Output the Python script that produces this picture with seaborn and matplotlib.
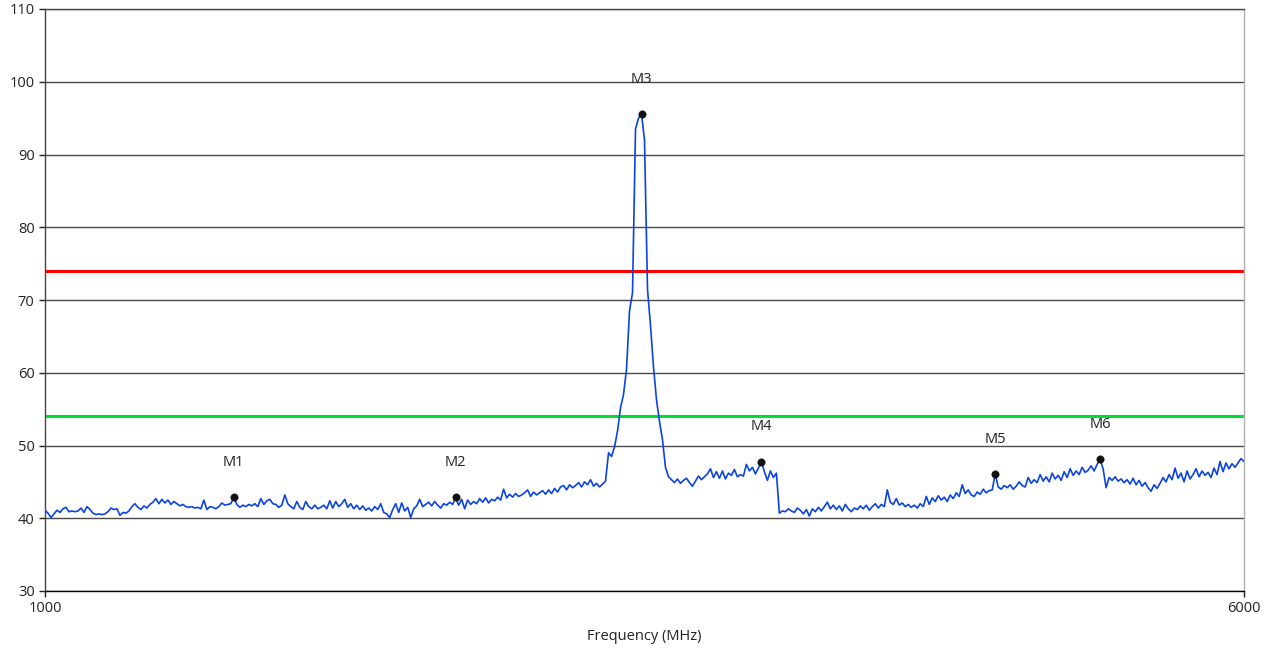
import numpy as np
import pandas as pd
import matplotlib
matplotlib.use("Agg")
import matplotlib.pyplot as plt
import seaborn as sns

# ==============================
# DATA (spectrum trace, 12.5 MHz steps)
# ==============================
freq_start, freq_stop, freq_step = 1000, 6000, 12.5

# 1000 - 1987.5 MHz
level_a = [41.1, 40.7, 40.1, 40.6, 41.1, 40.8, 41.3, 41.5, 40.9, 41.0,
           40.9, 41.0, 41.4, 40.8, 41.6, 41.2, 40.7, 40.5, 40.6, 40.5,
           40.6, 40.9, 41.4, 41.2, 41.3, 40.4, 40.8, 40.7, 41.0, 41.6,
           42.0, 41.5, 41.2, 41.7, 41.4, 41.9, 42.2, 42.7, 42.0, 42.6,
           42.1, 42.5, 41.9, 42.3, 42.0, 41.7, 41.9, 41.6, 41.5, 41.6,
           41.4, 41.5, 41.3, 42.5, 41.2, 41.6, 41.5, 41.3, 41.6, 42.1,
           41.8, 41.9, 42.0, 42.9, 41.9, 41.5, 41.8, 41.6, 41.9, 41.7,
           42.0, 41.6, 42.7, 41.9, 42.4, 42.6, 42.0, 41.9, 41.5, 41.8]
# 2000 - 2987.5 MHz
level_b = [43.2, 42.0, 41.6, 41.3, 42.3, 41.5, 41.2, 42.3, 41.6, 41.3,
           41.8, 41.3, 41.5, 41.8, 41.3, 42.4, 41.4, 42.3, 41.6, 42.0,
           42.6, 41.5, 42.0, 41.3, 41.8, 41.2, 41.7, 41.1, 41.4, 41.0,
           41.6, 41.2, 42.0, 40.8, 40.6, 40.1, 41.2, 42.0, 40.8, 42.1,
           41.0, 41.5, 40.1, 41.3, 41.7, 42.6, 41.6, 41.9, 42.2, 41.7,
           42.3, 41.8, 41.4, 42.0, 41.8, 42.2, 41.9, 42.9, 41.8, 42.6,
           41.3, 42.5, 41.9, 42.3, 42.0, 42.7, 42.2, 42.8, 42.1, 42.6,
           42.4, 42.9, 42.5, 44.0, 42.8, 43.3, 42.9, 43.4, 43.0, 43.2]
# 3000 - 3987.5 MHz
level_c = [43.5, 43.9, 43.0, 43.6, 43.2, 43.5, 43.8, 43.3, 43.9, 43.4,
           44.1, 43.6, 44.3, 44.5, 43.9, 44.6, 44.2, 44.5, 44.9, 44.3,
           45.0, 44.6, 45.3, 44.4, 44.8, 44.3, 44.7, 45.1, 49.0, 48.5,
           49.8, 52.0, 55.2, 57.0, 60.5, 68.5, 71.0, 93.5, 95.0, 95.6,
           92.0, 71.5, 66.5, 60.8, 56.3, 53.3, 50.8, 47.0, 45.7, 45.3,
           44.9, 45.4, 44.8, 45.2, 45.5, 44.9, 44.4, 45.1, 45.8, 45.3,
           45.7, 46.1, 46.8, 45.6, 46.4, 45.5, 46.5, 45.4, 46.2, 45.9,
           46.7, 45.7, 46.0, 45.8, 47.4, 46.5, 47.0, 46.1, 46.9, 47.8]
# 4000 - 4987.5 MHz
level_d = [46.4, 45.2, 46.5, 45.6, 46.2, 40.7, 41.0, 40.9, 41.3, 41.0,
           40.8, 41.4, 41.1, 40.6, 41.2, 40.3, 41.3, 40.9, 41.5, 41.0,
           41.6, 42.2, 41.3, 41.8, 41.2, 41.7, 41.0, 41.9, 41.3, 40.9,
           41.4, 41.2, 41.7, 41.3, 41.8, 41.1, 41.6, 42.0, 41.4, 41.9,
           41.6, 43.9, 42.2, 41.9, 42.7, 41.8, 42.1, 41.6, 41.9, 41.5,
           41.8, 41.4, 42.0, 41.6, 43.0, 41.9, 42.8, 42.3, 43.1, 42.5,
           42.9, 42.3, 43.2, 42.7, 43.5, 43.0, 44.6, 43.4, 43.9, 43.2,
           43.0, 43.6, 43.3, 44.0, 43.5, 43.8, 43.9, 46.1, 44.3, 44.0]
# 5000 - 6000 MHz
level_e = [44.5, 44.2, 44.6, 44.0, 44.4, 45.0, 44.5, 44.3, 45.6, 44.8,
           45.3, 44.9, 46.0, 45.1, 45.7, 45.0, 46.2, 45.4, 45.9, 45.2,
           46.4, 45.6, 46.8, 45.9, 46.5, 46.0, 47.0, 46.3, 46.6, 47.2,
           46.5, 47.4, 48.1, 46.8, 44.2, 45.6, 45.2, 45.7, 45.1, 45.4,
           44.9, 45.3, 44.7, 45.5, 44.6, 45.2, 44.4, 44.9, 44.2, 43.7,
           44.6, 44.1, 44.8, 45.6, 45.0, 46.0, 45.3, 46.9, 45.5, 46.2,
           45.0, 46.5, 45.4, 46.0, 46.8, 45.7, 46.5, 45.9, 46.3, 45.6,
           46.9, 46.0, 47.8, 46.4, 47.6, 46.8, 47.5, 47.0, 47.6, 48.2,
           47.8]

marker_names = ["M1", "M2", "M3", "M4", "M5", "M6"]
marker_freqs = [1787.5, 2712.5, 3487.5, 3987.5, 4962.5, 5400.0]

limit_red = 74
limit_green = 54

x_ticks = [1000, 6000]
y_ticks = list(range(30, 111, 10))

# ==============================
# BUILD TABLES
# ==============================
levels = level_a + level_b + level_c + level_d + level_e
freqs = freq_start + freq_step * np.arange(len(levels))
trace = pd.DataFrame({"freq": freqs, "level": levels})

marker_levels = np.interp(marker_freqs, trace["freq"], trace["level"])
markers = pd.DataFrame({"name": marker_names, "freq": marker_freqs,
                        "level": marker_levels})

# ==============================
# PLOT
# ==============================
sns.set_theme(style="white")
plt.rcParams["font.family"] = ["Open Sans", "DejaVu Sans"]

fig = plt.figure(figsize=(12.74, 6.54), dpi=100)
ax = fig.add_axes([45 / 1274, 1 - 591 / 654, 1199 / 1274, 582 / 654])

for yv in y_ticks:
    ax.axhline(yv, color="#4a4a4a", lw=1.0, zorder=1)

ax.axhline(limit_red, color="#ff0000", lw=2.2, zorder=2)
ax.axhline(limit_green, color="#00dd33", lw=2.2, zorder=2)

sns.lineplot(data=trace, x="freq", y="level", ax=ax, color="#0b44e0",
             lw=1.2, estimator=None, sort=False, zorder=3)
sns.scatterplot(data=markers, x="freq", y="level", ax=ax, color="#111111",
                s=28, edgecolor="#111111", zorder=4)

for _, row in markers.iterrows():
    ax.annotate(row["name"], (row["freq"], row["level"]),
                xytext=(0, 25), textcoords="offset points",
                ha="center", va="center", fontsize=10.5, color="#222222")

ax.set_xlim(freq_start, freq_stop)
ax.set_ylim(30, 110)
ax.set_xticks(x_ticks)
ax.set_yticks(y_ticks)
ax.tick_params(axis="both", length=4, width=1, colors="#222222",
               labelsize=10.5, direction="out", bottom=True, left=True)
ax.set_xlabel("Frequency (MHz)", fontsize=10.5, color="#222222", labelpad=9)
ax.set_ylabel("")

ax.spines["left"].set_color("#444444")
ax.spines["bottom"].set_color("#000000")
ax.spines["top"].set_color("#4a4a4a")
ax.spines["right"].set_color("#b0b0b0")
for sp in ax.spines.values():
    sp.set_linewidth(1.0)

fig.savefig("out.png", dpi=100)
print("Saved out.png")
